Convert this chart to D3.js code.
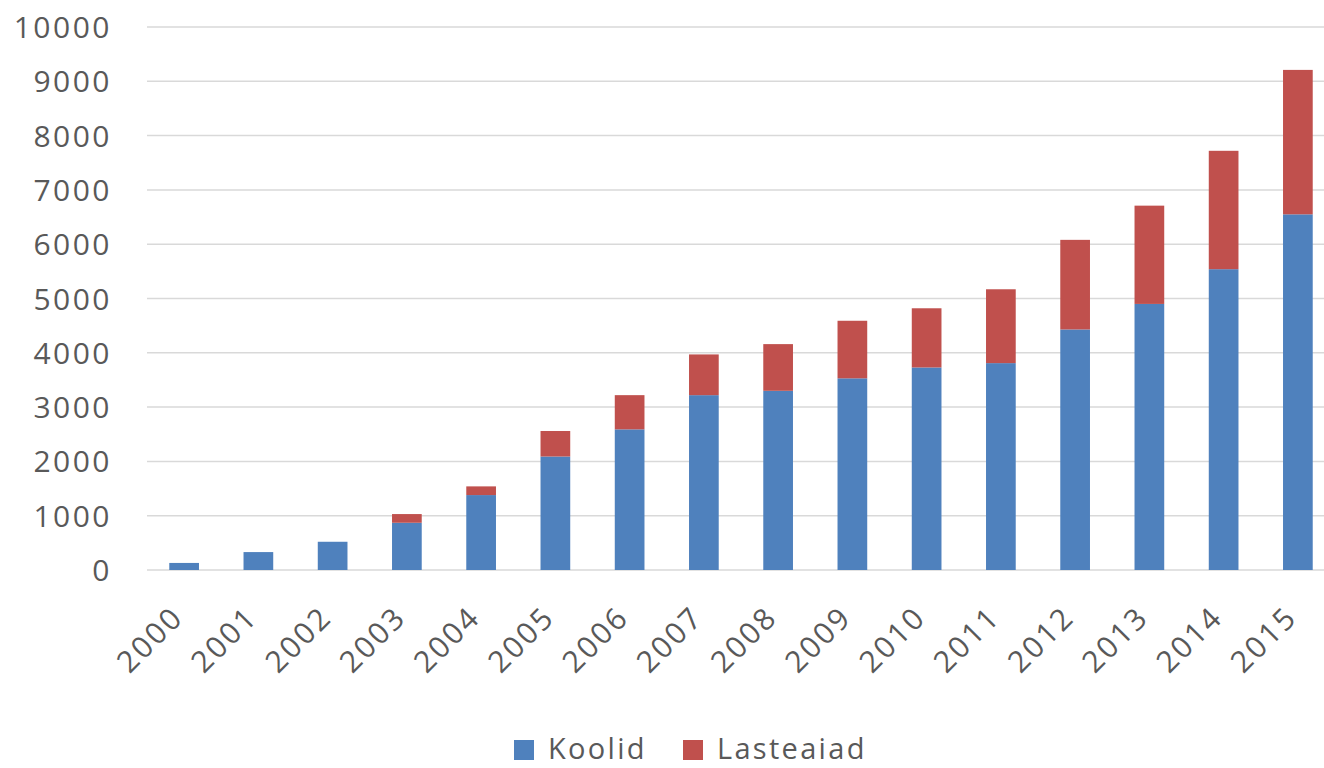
<!DOCTYPE html>
<html>
<head>
<meta charset="utf-8">
<script src="https://cdn.jsdelivr.net/npm/d3@7"></script>
<style>
  html, body { margin: 0; padding: 0; background: #fff; }
  svg { display: block; }
  text { font-family: "Open Sans", "Liberation Sans", sans-serif; fill: #595959; }
</style>
</head>
<body>
<svg id="chart" width="1324" height="768"></svg>
<script>
const years = ["2000","2001","2002","2003","2004","2005","2006","2007","2008","2009","2010","2011","2012","2013","2014","2015"];
const koolid =    [130, 330, 520, 870, 1380, 2090, 2590, 3220, 3300, 3530, 3730, 3810, 4430, 4900, 5540, 6550];
const lasteaiad = [0,   0,   0,   160, 160,  470,  630,  750,  860,  1060, 1090, 1360, 1650, 1810, 2180, 2660];
const yTicks = [0,1000,2000,3000,4000,5000,6000,7000,8000,9000,10000];
const seriesNames = ["Koolid", "Lasteaiad"];
const colors = ["#4F81BD", "#C0504D"];

const svg = d3.select("#chart");
const x = d3.scaleBand().domain(years).range([147, 1335]).paddingInner(0.6).paddingOuter(0.3);
const y = d3.scaleLinear().domain([0, 10000]).range([570, 27]);

// gridlines
svg.append("g").selectAll("line").data(yTicks).join("line")
  .attr("x1", 147).attr("x2", 1335)
  .attr("y1", d => y(d)).attr("y2", d => y(d))
  .attr("stroke", "#D9D9D9").attr("stroke-width", 1.5);

// y labels
svg.append("g").selectAll("text").data(yTicks).join("text")
  .attr("x", 112).attr("y", d => y(d) + 11)
  .attr("text-anchor", "end")
  .attr("font-size", 30).attr("letter-spacing", 2.5)
  .text(d => d);

// stacked bars
const rows = years.map((yr, i) => ({year: yr, Koolid: koolid[i], Lasteaiad: lasteaiad[i]}));
const stack = d3.stack().keys(seriesNames)(rows);
svg.append("g").selectAll("g").data(stack).join("g")
  .attr("fill", (d, i) => colors[i])
  .selectAll("rect").data(d => d).join("rect")
  .attr("x", d => x(d.data.year))
  .attr("width", x.bandwidth())
  .attr("y", d => y(d[1]))
  .attr("height", d => Math.max(0, y(d[0]) - y(d[1])));

// x labels
svg.append("g").selectAll("text").data(years).join("text")
  .attr("transform", d => `translate(${x(d) + x.bandwidth()/2 + 1},${619}) rotate(-45)`)
  .attr("text-anchor", "end")
  .attr("font-size", 30).attr("letter-spacing", 2.5)
  .text(d => d);

// legend
const legend = svg.append("g");
const legendX = [514, 683];
seriesNames.forEach((name, i) => {
  legend.append("rect").attr("x", legendX[i]).attr("y", 740).attr("width", 20).attr("height", 20).attr("fill", colors[i]);
  legend.append("text").attr("x", legendX[i] + 34).attr("y", 759)
    .attr("font-size", 29).attr("letter-spacing", 2.3).text(name);
});
</script>
</body>
</html>
